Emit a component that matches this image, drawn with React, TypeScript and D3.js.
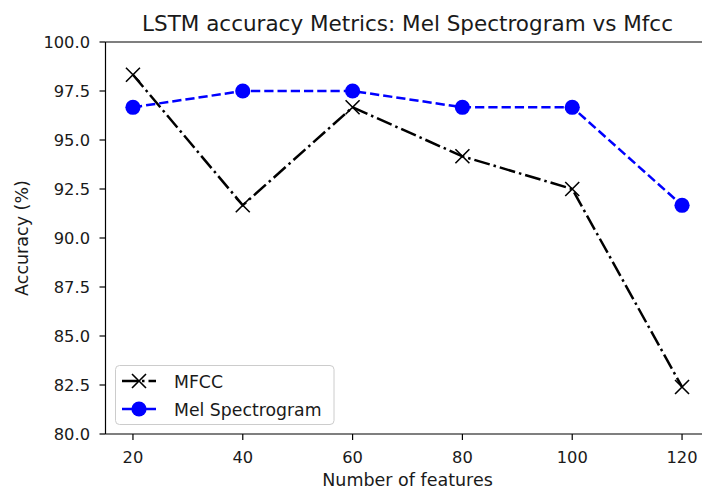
import React from "react";
import * as d3 from "d3";

// Number of features evaluated
const features = [20, 40, 60, 80, 100, 120];
// Accuracy (%) per feature count
const mfccAcc = [98.33, 91.67, 96.67, 94.17, 92.5, 82.4];
const melAcc = [96.67, 97.5, 97.5, 96.67, 96.67, 91.67];
const xTicks = [20, 40, 60, 80, 100, 120];
const yTicks = [80, 82.5, 85, 87.5, 90, 92.5, 95, 97.5, 100];

const W = 702;
const H = 491;
const FONT = "'DejaVu Sans', sans-serif";
const TEXT = "#1a1a1a";

export default function App() {
  const x = d3.scaleLinear().domain([15, 125]).range([105.5, 709.5]);
  const y = d3.scaleLinear().domain([80, 100]).range([434, 42]);
  const line = d3
    .line<number>()
    .x((_, i) => x(features[i]))
    .y((v) => y(v));

  const left = x.range()[0];
  const right = x.range()[1];
  const top = y.range()[1];
  const bottom = y.range()[0];
  const lw = 2.5;
  const xs = 7; // half-size of the "x" marker
  const dashDot = `${6.4 * lw} ${1.6 * lw} ${1 * lw} ${1.6 * lw}`;

  const cross = (cx: number, cy: number, key: string, s = xs) => (
    <path
      key={key}
      d={`M${cx - s},${cy - s}L${cx + s},${cy + s}M${cx - s},${cy + s}L${cx + s},${cy - s}`}
      stroke="#000"
      strokeWidth={1.6}
      fill="none"
    />
  );

  return (
    <svg
      width={W}
      height={H}
      style={{ position: "absolute", left: 0, top: 0, background: "#fff" }}
      fontFamily={FONT}
    >
      <rect x={0} y={0} width={W} height={H} fill="#fff" />
      {/* title */}
      <text x={(left + right) / 2} y={31} textAnchor="middle" fontSize={21.5} fill={TEXT}>
        LSTM accuracy Metrics: Mel Spectrogram vs Mfcc
      </text>

      {/* series */}
      <path d={line(mfccAcc) || ""} fill="none" stroke="#000" strokeWidth={lw} strokeDasharray={dashDot} />
      {mfccAcc.map((v, i) => cross(x(features[i]), y(v), `m${i}`))}
      <path
        d={line(melAcc) || ""}
        fill="none"
        stroke="#0000ff"
        strokeWidth={lw}
        strokeDasharray={`${3.7 * lw} ${1.6 * lw}`}
      />
      {melAcc.map((v, i) => (
        <circle key={`c${i}`} cx={x(features[i])} cy={y(v)} r={7.6} fill="#0000ff" />
      ))}

      {/* spines */}
      <line x1={left} x2={left} y1={top} y2={bottom} stroke="#000" strokeWidth={1.2} />
      <line x1={left} x2={right} y1={bottom} y2={bottom} stroke="#000" strokeWidth={1.2} />
      <line x1={left} x2={right} y1={top} y2={top} stroke="#000" strokeWidth={1.2} />
      <line x1={right} x2={right} y1={top} y2={bottom} stroke="#000" strokeWidth={1.2} />

      {/* x axis */}
      {xTicks.map((t) => (
        <g key={`xt${t}`}>
          <line x1={x(t)} x2={x(t)} y1={bottom} y2={bottom + 6} stroke="#000" strokeWidth={1.2} />
          <text x={x(t)} y={bottom + 28.5} textAnchor="middle" fontSize={16.3} fill={TEXT}>
            {t}
          </text>
        </g>
      ))}
      <text x={(left + right) / 2} y={486} textAnchor="middle" fontSize={17.5} fill={TEXT}>
        Number of features
      </text>

      {/* y axis */}
      {yTicks.map((t) => (
        <g key={`yt${t}`}>
          <line x1={left - 6} x2={left} y1={y(t)} y2={y(t)} stroke="#000" strokeWidth={1.2} />
          <text x={left - 15.5} y={y(t) + 6} textAnchor="end" fontSize={16.3} fill={TEXT}>
            {t.toFixed(1)}
          </text>
        </g>
      ))}
      <text
        transform={`translate(28,${(top + bottom) / 2}) rotate(-90)`}
        textAnchor="middle"
        fontSize={17.5}
        fill={TEXT}
      >
        Accuracy (%)
      </text>

      {/* legend */}
      <g>
        <rect x={115.5} y={365.5} width={218.5} height={59} rx={4} fill="#fff" fillOpacity={0.8} stroke="#ccc" />
        <line x1={122} x2={156} y1={381} y2={381} stroke="#000" strokeWidth={lw} strokeDasharray={dashDot} />
        {cross(139, 381, "lg")}
        <text x={174} y={387.5} fontSize={17.3} fill={TEXT}>
          MFCC
        </text>
        <line x1={122} x2={156} y1={409} y2={409} stroke="#0000ff" strokeWidth={lw} />
        <circle cx={139} cy={409} r={7.6} fill="#0000ff" />
        <text x={174} y={415.5} fontSize={17.3} fill={TEXT}>
          Mel Spectrogram
        </text>
      </g>
    </svg>
  );
}
